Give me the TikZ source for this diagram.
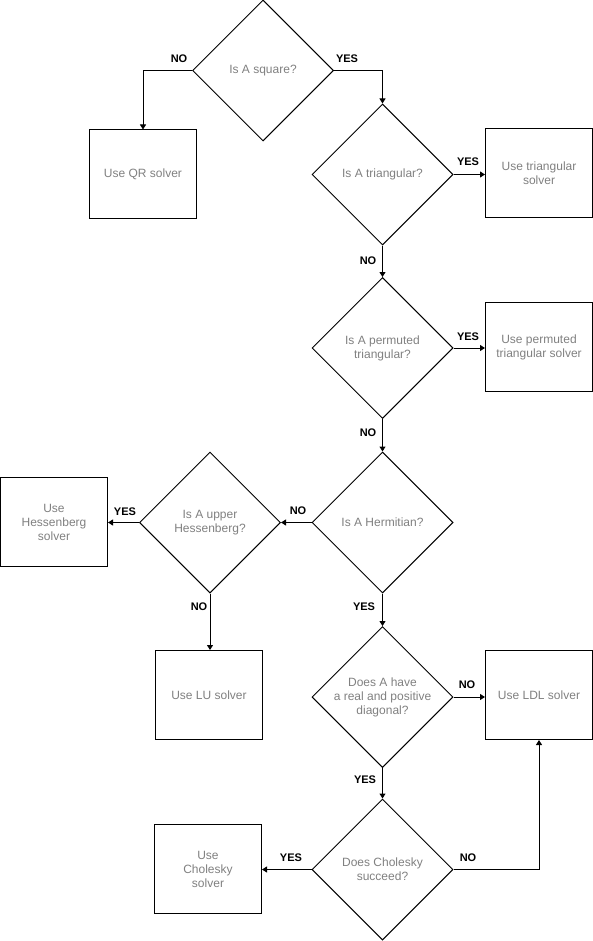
\documentclass[tikz,border=0pt]{standalone}
\usepackage{fontspec}
\setmainfont{Liberation Sans}
\usetikzlibrary{shapes.geometric,arrows.meta}
\definecolor{txtgray}{RGB}{128,128,128}
\begin{document}
\begin{tikzpicture}[x=1pt,y=-1pt,
  decision/.style={shape=diamond,draw=black,line width=1pt,minimum width=141pt,minimum height=141pt,inner sep=0pt,aspect=1,align=center,text=txtgray,font=\fontsize{12}{14}\selectfont},
  outcome/.style={shape=rectangle,draw=black,line width=1pt,minimum width=107pt,minimum height=89pt,inner sep=0pt,align=center,text=txtgray,font=\fontsize{12}{14}\selectfont},
  lab/.style={font=\fontsize{11}{13}\selectfont\bfseries,text=black,inner sep=0pt},
  arr/.style={draw=black,line width=1pt,-{Triangle[length=5pt,width=6pt]}}
]
\useasboundingbox (0,0) rectangle (593,941);
% decisions
\node[decision] (d1) at (263,70.5) {Is A square?};
\node[decision] (d2) at (382.5,174.5) {Is A triangular?};
\node[decision] (d3) at (382.5,348) {Is A permuted\\triangular?};
\node[decision] (d4) at (382.5,522.5) {Is A Hermitian?};
\node[decision] (d5) at (210,522.5) {Is A upper\\Hessenberg?};
\node[decision] (d6) at (382.5,697) {Does A have\\a real and positive\\diagonal?};
\node[decision] (d7) at (382.5,869.5) {Does Cholesky\\succeed?};
% outcomes
\node[outcome] (qr) at (143,174.5) {Use QR solver};
\node[outcome] (tri) at (539,173) {Use triangular\\solver};
\node[outcome] (perm) at (539,347) {Use permuted\\triangular solver};
\node[outcome] (hess) at (54,522) {Use\\Hessenberg\\solver};
\node[outcome] (lu) at (209,695) {Use LU solver};
\node[outcome] (ldl) at (539,695) {Use LDL solver};
\node[outcome] (chol) at (208,869) {Use\\Cholesky\\solver};
% connectors
\draw[arr] (d1.west) -| (qr.north);
\draw[arr] (d1.east) -| (d2.north);
\draw[arr] (d2.east) -- (d2.east -| tri.west);
\draw[arr] (d2.south) -- (d3.north);
\draw[arr] (d3.east) -- (d3.east -| perm.west);
\draw[arr] (d3.south) -- (d4.north);
\draw[arr] (d4.west) -- (d5.east);
\draw[arr] (d5.west) -- (d5.west -| hess.east);
\draw[arr] (d5.south) -- (d5.south |- lu.north);
\draw[arr] (d4.south) -- (d6.north);
\draw[arr] (d6.east) -- (d6.east -| ldl.west);
\draw[arr] (d6.south) -- (d7.north);
\draw[arr] (d7.west) -- (d7.west -| chol.east);
\draw[arr] (d7.east) -| (ldl.south);
% labels
\node[lab] (l1) at (179,59) {NO};
\node[lab] (l2) at (347,59) {YES};
\node[lab] (l3) at (468,162) {YES};
\node[lab] (l4) at (368,261) {NO};
\node[lab] (l5) at (468,337) {YES};
\node[lab] (l6) at (368,433) {NO};
\node[lab] (l7) at (298,511) {NO};
\node[lab] (l8) at (125,512) {YES};
\node[lab] (l9) at (199,607) {NO};
\node[lab] (l10) at (364,607) {YES};
\node[lab] (l11) at (467,685) {NO};
\node[lab] (l12) at (365,780) {YES};
\node[lab] (l13) at (291,858) {YES};
\node[lab] (l14) at (468,858) {NO};
\end{tikzpicture}
\end{document}
